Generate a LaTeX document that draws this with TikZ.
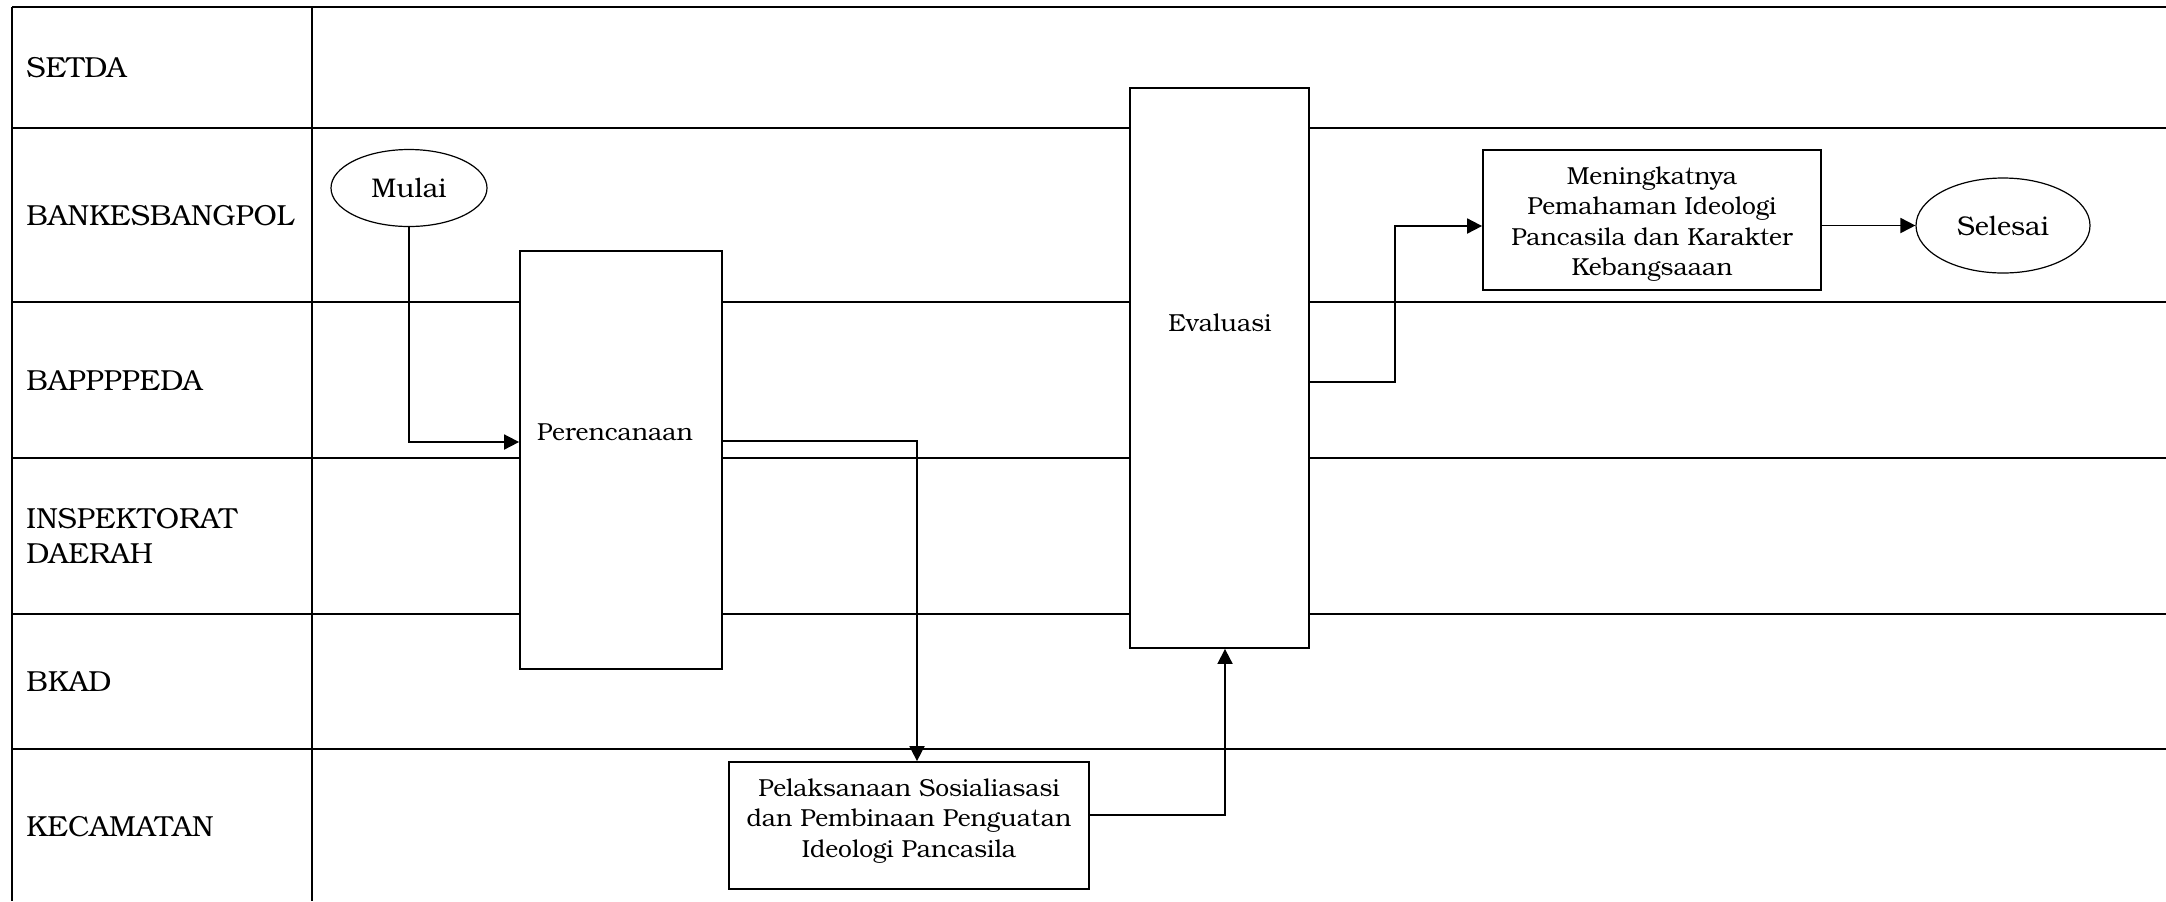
\documentclass[tikz,border=0pt]{standalone}
\usepackage{fontspec}
\setmainfont{TeX Gyre Bonum}
\usetikzlibrary{shapes.geometric,arrows.meta}

\begin{document}
\begin{tikzpicture}[x=0.5pt,y=-0.5pt,
  grid/.style={line width=1pt},
  lane/.style={anchor=west,align=left,inner sep=0pt,font=\fontsize{14.5}{17.5}\selectfont},
  procbox/.style={draw,line width=0.9pt,fill=white,rectangle,inner sep=0pt},
  boxtext/.style={inner sep=0pt,align=center,font=\fontsize{12.3}{15.2}\selectfont},
  term/.style={draw,line width=0.6pt,fill=white,ellipse,inner sep=0pt,font=\fontsize{13.5}{17}\selectfont},
  arr/.style={line width=0.9pt,-{Triangle[length=7.5pt,width=7.5pt]}},
  ]
\useasboundingbox (0,0) rectangle (2166,901);

% swimlane grid
\draw[grid] (12,7) -- (2166,7);
\foreach \yy in {128,302,458,614,749} {\draw[grid] (12,\yy) -- (2166,\yy);}
\draw[grid] (12,7) -- (12,901);
\draw[grid] (312,7) -- (312,901);

% lane names
\node[lane] (l1) at (26,68) {SETDA};
\node[lane] (l2) at (26,216) {BANKESBANGPOL};
\node[lane] (l3) at (26,381) {BAPPPPEDA};
\node[lane] (l4) at (26,536) {INSPEKTORAT\\DAERAH};
\node[lane] (l5) at (26,682) {BKAD};
\node[lane] (l6) at (26,827) {KECAMATAN};

% process steps
\node[term, minimum width=78pt, minimum height=38.5pt] (mulai) at (409,188) {Mulai};
\node[procbox, minimum width=101pt, minimum height=209pt] (plan) at (621,460) {};
\node[boxtext] (plantext) at (615,432) {Perencanaan};
\node[procbox, minimum width=180pt, minimum height=63.5pt] (pel) at (909,825.5) {};
\node[boxtext] (peltext) at (909,821)
  {Pelaksanaan Sosialiasasi\\dan Pembinaan Penguatan\\Ideologi Pancasila};
\node[procbox, minimum width=89.5pt, minimum height=280pt] (eval) at (1219.5,368) {};
\node[boxtext] (evaltext) at (1220,323) {Evaluasi};
\node[procbox, minimum width=169pt, minimum height=70pt] (men) at (1652,220) {};
\node[boxtext] (mentext) at (1652,224)
  {Meningkatnya\\Pemahaman Ideologi\\Pancasila dan Karakter\\Kebangsaaan};
\node[term, minimum width=87pt, minimum height=47.5pt] (selesai) at (2003,225.5) {Selesai};

% flow
\draw[arr] (mulai.south) |- ([yshift=9pt]plan.west);
\draw[arr] ([yshift=9.5pt]plan.east) -| ([xshift=4pt]pel.north);
\draw[arr] ([yshift=5.25pt]pel.east) -| ([xshift=2.75pt]eval.south);
\draw[arr] ([yshift=-7pt]eval.east) -- ++(85,0) |- ([yshift=-3pt]men.west);
\draw[arr] (men.east |- selesai.west) -- (selesai.west);
\end{tikzpicture}
\end{document}
